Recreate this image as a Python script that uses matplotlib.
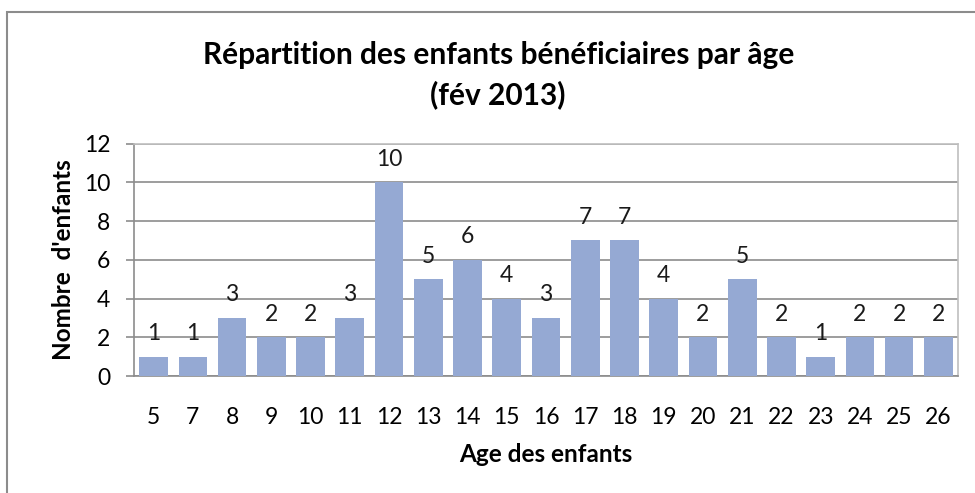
import matplotlib
matplotlib.use('Agg')
import matplotlib.pyplot as plt
from matplotlib.patches import Rectangle

FONT_NAME = 'Lato'
BAR_COLOR = '#95A9D3'
GRID_COLOR = '#8C8C8C'
FRAME_COLOR = '#8C8C8C'

ages = ['5', '7', '8', '9', '10', '11', '12', '13', '14', '15', '16',
        '17', '18', '19', '20', '21', '22', '23', '24', '25', '26']
counts = [1, 1, 3, 2, 2, 3, 10, 5, 6, 4, 3, 7, 7, 4, 2, 5, 2, 1, 2, 2, 2]
y_ticks = [0, 2, 4, 6, 8, 10, 12]

plt.rcParams['font.family'] = [FONT_NAME, 'DejaVu Sans']

fig = plt.figure(figsize=(9.75, 4.93), dpi=100)
ax = fig.add_axes([0.1374, 0.2373, 0.8452, 0.4716])

# outer chart frame (Excel-like)
fig.patches.append(Rectangle((7 / 975, -0.05), 1.2, 1 - 12 / 493 + 0.05,
                             transform=fig.transFigure, fill=False,
                             edgecolor=FRAME_COLOR, linewidth=1.5))

x = range(len(ages))
bars = ax.bar(x, counts, width=0.73, color=BAR_COLOR, zorder=3)
for xi, v in zip(x, counts):
    ax.annotate(str(v), (xi, v), xytext=(0, 9), textcoords='offset points',
                ha='center', va='bottom', fontsize=16.5, color='#1a1a1a')

ax.set_xlim(-0.5, len(ages) - 0.5)
ax.set_ylim(0, 12)
ax.set_yticks(y_ticks)
ax.set_xticks(list(x))
ax.set_xticklabels(ages)
ax.grid(axis='y', color=GRID_COLOR, linewidth=1.2, zorder=0)
ax.tick_params(axis='y', length=6, color=GRID_COLOR, width=1.2, labelsize=16.5, pad=11)
ax.tick_params(axis='x', length=0, labelsize=16.5, pad=22)
for s in ['left', 'bottom']:
    ax.spines[s].set_color(GRID_COLOR)
    ax.spines[s].set_linewidth(1.2)
for s in ['top', 'right']:
    ax.spines[s].set_color('#BFBFBF')
    ax.spines[s].set_linewidth(1.2)

ax.set_xlabel('Age des enfants', fontsize=17.5, fontweight='bold', labelpad=11)
ax.set_ylabel("Nombre  d'enfants", fontsize=17.5, fontweight='bold', labelpad=6.5)

fig.text(0.511, 0.917, 'Répartition des enfants bénéficiaires par âge\n(fév 2013)',
         ha='center', va='top', fontsize=21.5, fontweight='bold', linespacing=1.45)

fig.savefig('out.png', dpi=100)
